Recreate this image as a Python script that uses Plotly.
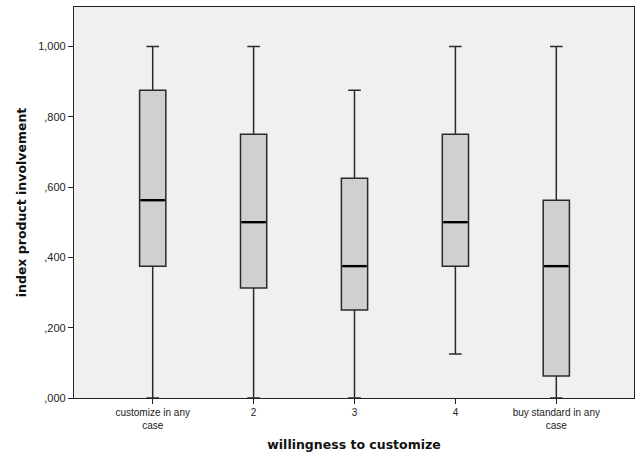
import plotly.graph_objects as go

# Box summary per willingness group
categories = ["customize in any<br>case", "2", "3", "4", "buy standard in any<br>case"]
lower_fence = [0.0, 0.0, 0.0, 0.125, 0.0]
q1 = [0.375, 0.3125, 0.25, 0.375, 0.0625]
median = [0.5625, 0.5, 0.375, 0.5, 0.375]
q3 = [0.875, 0.75, 0.625, 0.75, 0.5625]
upper_fence = [1.0, 1.0, 0.875, 1.0, 1.0]

y_ticks = [0.0, 0.2, 0.4, 0.6, 0.8, 1.0]
y_tick_text = [",000", ",200", ",400", ",600", ",800", "1,000"]

positions = list(range(len(categories)))
box_width = 0.26

fig = go.Figure()
fig.add_trace(go.Box(
    x=positions,
    q1=q1,
    median=median,
    q3=q3,
    lowerfence=lower_fence,
    upperfence=upper_fence,
    width=box_width,
    whiskerwidth=0.48,
    fillcolor="#d0d0d0",
    line=dict(color="#2a2a2a", width=1.5),
    showlegend=False,
    hoverinfo="skip",
))

# heavier median bars drawn over each box
mx, my = [], []
for p, m in zip(positions, median):
    mx += [p - box_width / 2 + 0.01, p + box_width / 2 - 0.01, None]
    my += [m, m, None]
fig.add_trace(go.Scatter(
    x=mx, y=my, mode="lines",
    line=dict(color="black", width=2.4),
    showlegend=False, hoverinfo="skip",
))

fig.update_layout(
    width=637,
    height=452,
    margin=dict(l=74, r=3, t=7, b=54),
    paper_bgcolor="white",
    plot_bgcolor="#f0f0f0",
    font=dict(family="Arial, Liberation Sans, sans-serif", color="#222222"),
    xaxis=dict(
        range=[-0.78, 4.77],
        tickvals=positions,
        ticktext=categories,
        ticks="outside",
        ticklen=5,
        tickwidth=1.2,
        tickcolor="#222222",
        tickfont=dict(size=10),
        showgrid=False,
        zeroline=False,
        showline=True,
        linecolor="#222222",
        linewidth=1.2,
        mirror=True,
        automargin=False,
        title=dict(text="<b>willingness to customize</b>",
                   font=dict(size=12.5, family="DejaVu Sans, Verdana, sans-serif", color="#111111"),
                   standoff=14),
    ),
    yaxis=dict(
        range=[0, 1.112],
        tickvals=y_ticks,
        ticktext=y_tick_text,
        ticks="outside",
        ticklen=5,
        tickwidth=1.2,
        tickcolor="#222222",
        tickfont=dict(size=11),
        showgrid=False,
        zeroline=False,
        showline=True,
        linecolor="#222222",
        linewidth=1.2,
        mirror=True,
        automargin=False,
        title=dict(text="<b>index product involvement</b>",
                   font=dict(size=12.5, family="DejaVu Sans, Verdana, sans-serif", color="#111111"),
                   standoff=8),
    ),
)

fig.write_html("out.html")
